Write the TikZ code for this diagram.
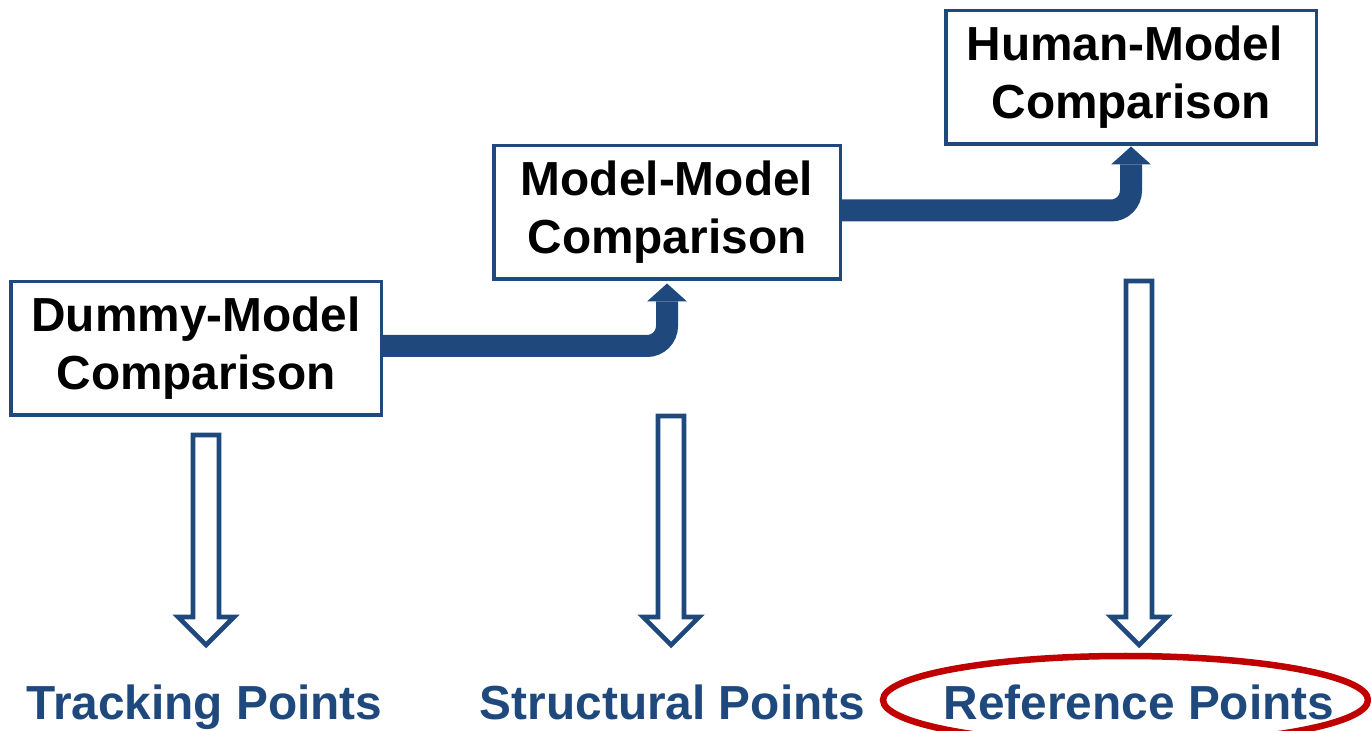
\documentclass[tikz,border=0pt]{standalone}
\usepackage{fontspec}
\setmainfont{Liberation Sans}
\usetikzlibrary{arrows.meta}
\definecolor{navy}{RGB}{31,73,125}
\definecolor{darkred}{RGB}{192,0,0}
\tikzset{
  cmpbox/.style={draw=navy, line width=1.75pt, fill=white, align=center,
    minimum width=185.25pt, minimum height=66.75pt, inner sep=0pt,
    font=\fontsize{23.9pt}{29pt}\selectfont\bfseries},
  ptlabel/.style={text=navy, anchor=base, inner sep=0pt,
    font=\fontsize{23.9pt}{29pt}\selectfont\bfseries},
  flow/.style={draw=navy, line width=11pt, rounded corners=10pt,
    -{Triangle[width=20pt,length=9pt,line width=0pt]}},
  hollow/.style={draw=navy, line width=2.3pt, fill=white, line join=miter},
  ring/.style={draw=darkred, line width=3.25pt}
}
\newcommand\hollowarrow[3]{%
  \draw[hollow] (#1-13,#2) -- (#1+13,#2) -- (#1+13,#3) -- (#1+28,#3)
    -- (#1,#3+28) -- (#1-28,#3) -- (#1-13,#3) -- cycle;}
\begin{document}
\begin{tikzpicture}[x=0.5pt,y=-0.5pt]
\useasboundingbox (0,0) rectangle (1371,731);
% boxes
\node[cmpbox] (dummy) at (196,348.5) {Dummy-Model\\Comparison};
\node[cmpbox, minimum width=173.25pt] (mm) at (667,212.5) {Model-Model\\Comparison};
\node[cmpbox] (human) at (1131,77.5) {Human-Model\hspace*{6.5pt}\\Comparison};
% flow arrows
\draw[flow] ([yshift=1.25pt]dummy.east) -| ([yshift=-1.25pt]mm.south);
\draw[flow] ([yshift=1pt]mm.east) -| ([yshift=-0.25pt]human.south);
% red ellipse
\draw[ring] (1125.5,700) ellipse [x radius=242.5, y radius=44];
% hollow arrows
\hollowarrow{206}{435}{617}
\hollowarrow{671}{416}{617}
\hollowarrow{1139}{281}{617}
% labels
\node[ptlabel] (track) at (204.5,719.5) {Tracking Points};
\node[ptlabel] (struct) at (672.5,719.5) {Structural Points};
\node[ptlabel] (ref) at (1139,719.5) {Reference Points};
\end{tikzpicture}
\end{document}
